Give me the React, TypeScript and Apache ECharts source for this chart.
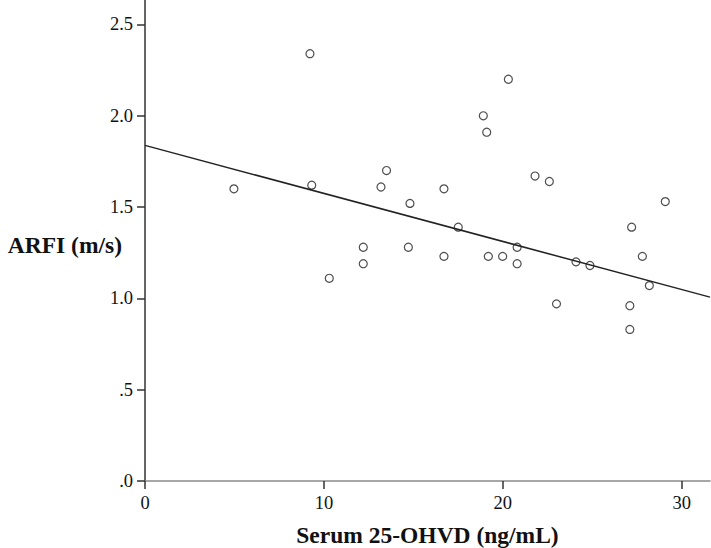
import React, { useEffect, useRef } from "react";
import * as echarts from "echarts";

const serumVitD = [4.97, 9.22, 9.32, 10.3, 12.2, 12.2, 13.19, 13.5, 14.81, 14.72, 16.71, 16.71, 17.51, 18.91, 19.1, 19.19, 19.99, 20.31, 20.8, 20.8, 21.8, 22.6, 23.0, 24.09, 24.87, 27.1, 27.1, 27.2, 27.8, 28.19, 29.08];
const arfi = [1.60, 2.34, 1.62, 1.11, 1.28, 1.19, 1.61, 1.70, 1.52, 1.28, 1.60, 1.23, 1.39, 2.00, 1.91, 1.23, 1.23, 2.20, 1.28, 1.19, 1.67, 1.64, 0.97, 1.20, 1.18, 0.96, 0.83, 1.39, 1.23, 1.07, 1.53];

const fitLineX = [0, 31.58];
const fitLineY = [1.838, 1.007];

const xTickValues = [0, 10, 20, 30];
const xTickLabels = ["0", "10", "20", "30"];
const yTickValues = [0, 0.5, 1.0, 1.5, 2.0, 2.5];
const yTickLabels = [".0", ".5", "1.0", "1.5", "2.0", "2.5"];

const xAxisTitle = "Serum 25-OHVD (ng/mL)";
const yAxisTitle = "ARFI (m/s)";

const FONT = "Liberation Serif";

export default function App() {
  const ref = useRef<HTMLDivElement>(null);
  useEffect(() => {
    if (!ref.current) return;
    const chart = echarts.init(ref.current, undefined, { renderer: "svg" });
    const scatterData = serumVitD.map((x, i) => [x, arfi[i]]);
    const lineData = fitLineX.map((x, i) => [x, fitLineY[i]]);
    chart.setOption({
      animation: false,
      backgroundColor: "#ffffff",
      grid: { left: 145, right: 1, top: 0, bottom: 67, containLabel: false, outerBoundsMode: "none" },
      graphic: [
        {
          type: "text",
          x: 122,
          y: 245,
          style: {
            text: yAxisTitle,
            fontFamily: FONT,
            fontWeight: "bold",
            fontSize: 23.5,
            fill: "#111",
            align: "right",
            verticalAlign: "middle",
          },
        },
      ],
      xAxis: {
        type: "value",
        min: 0,
        max: 31.58,
        interval: 10,
        name: xAxisTitle,
        nameLocation: "middle",
        nameGap: 42,
        nameTextStyle: { fontFamily: FONT, fontWeight: "bold", fontSize: 23.5, color: "#111" },
        axisLine: { show: true, onZero: false, lineStyle: { color: "#8a8a8a", width: 1.5 } },
        axisTick: { show: true, length: 8, customValues: xTickValues, lineStyle: { color: "#333", width: 1.5 } },
        axisLabel: {
          customValues: xTickValues,
          margin: 12,
          fontFamily: FONT,
          fontSize: 18.5,
          color: "#111",
          formatter: (v: number) => {
            const i = xTickValues.indexOf(v);
            return i >= 0 ? xTickLabels[i] : "";
          },
        },
        splitLine: { show: false },
      },
      yAxis: {
        type: "value",
        min: 0,
        max: 2.634,
        interval: 0.5,
        axisLine: { show: true, onZero: false, lineStyle: { color: "#333", width: 1.5 } },
        axisTick: { show: true, length: 8, customValues: yTickValues, lineStyle: { color: "#333", width: 1.5 } },
        axisLabel: {
          customValues: yTickValues,
          margin: 12,
          fontFamily: FONT,
          fontSize: 18.5,
          color: "#111",
          formatter: (v: number) => {
            const i = yTickValues.findIndex((t) => Math.abs(t - v) < 1e-9);
            return i >= 0 ? yTickLabels[i] : "";
          },
        },
        splitLine: { show: false },
      },
      series: [
        {
          type: "line",
          data: lineData,
          symbol: "none",
          lineStyle: { color: "#222", width: 1.5 },
          z: 2,
        },
        {
          type: "scatter",
          data: scatterData,
          symbol: "circle",
          symbolSize: 8,
          itemStyle: { color: "rgba(255,255,255,0)", borderColor: "#222", borderWidth: 1.2 },
          z: 3,
        },
      ],
    });
    return () => chart.dispose();
  }, []);
  return (
    <div
      ref={ref}
      style={{ position: "fixed", left: 0, top: 0, width: 711, height: 548, background: "#fff" }}
    />
  );
}
